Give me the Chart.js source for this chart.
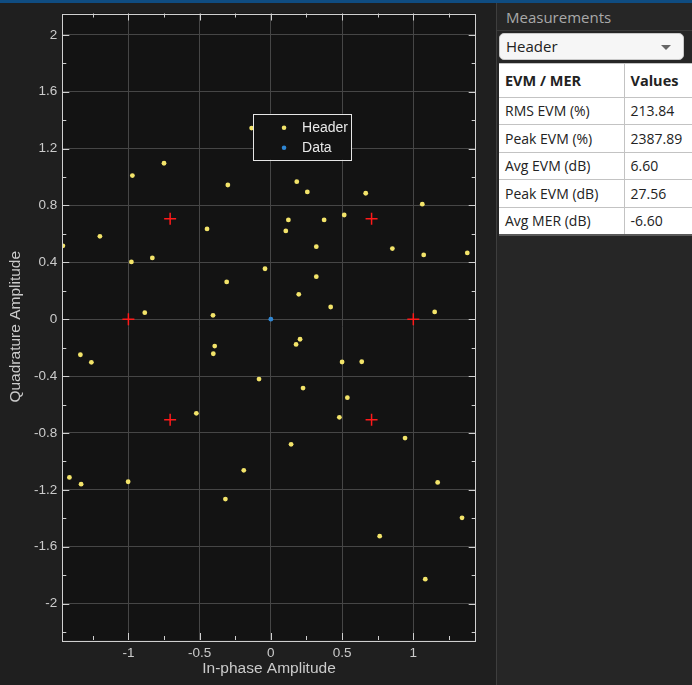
<!DOCTYPE html>
<html>
<head>
<meta charset="utf-8">
<script src="https://cdn.jsdelivr.net/npm/chart.js@4"></script>
<style>
 html,body{margin:0;padding:0;background:#1f1f1f;width:692px;height:685px;overflow:hidden;font-family:"Open Sans",sans-serif;}
 .topbar{position:absolute;left:0;top:0;width:692px;height:3px;background:#0f4c81;}
 #wrap{position:absolute;left:0;top:0;width:497px;height:685px;}
 .panel{position:absolute;left:496px;top:3px;width:196px;height:682px;background:#262626;border-left:1px solid #3e3e3e;}
 .ptitle{position:absolute;left:9px;top:4px;font-size:15px;color:#a9a9a9;}
 .pline{position:absolute;left:0;top:27px;width:196px;height:1px;background:#3a3a3a;}
 .drop{position:absolute;left:2px;top:30px;width:185px;height:27px;background:#f6f6f6;border:1px solid #c9c9c9;border-radius:5px;box-sizing:border-box;}
 .drop span{position:absolute;left:6px;top:2px;font-size:15px;color:#222;}
 .drop i{position:absolute;right:12px;top:11px;width:0;height:0;border-left:5px solid transparent;border-right:5px solid transparent;border-top:5px solid #666;}
 table{position:absolute;left:2px;top:59.5px;border-collapse:collapse;background:#fff;width:194px;border-bottom:2px solid #5a5a5a;}
 td,th{border:1px solid #c3c3c3;font-size:14px;color:#222;text-align:left;padding:0 6px;white-space:nowrap;box-sizing:border-box;height:27.6px;}
 th{font-weight:700;font-size:14.5px;height:34px;}
 td:first-child,th:first-child{width:125px;border-left:none;}
 td:last-child,th:last-child{border-right:none;}
</style>
</head>
<body>
<div class="topbar"></div>
<div id="wrap"><canvas id="c" width="497" height="685"></canvas></div>
<div class="panel">
 <div class="ptitle">Measurements</div>
 <div class="pline"></div>
 <div class="drop"><span>Header</span><i></i></div>
 <table id="tbl"></table>
</div>
<script>
/* constellation points */
const headerI=[-1.46,-1.20,-0.972,-0.75,-0.302,-0.448,-0.135,0.182,0.256,0.666,1.063,0.123,0.105,0.374,0.515,0.319,0.853,1.073,1.379,-0.979,-0.832,-0.041,-0.31,0.319,0.196,0.42,-0.885,-0.406,1.15,-1.337,-1.26,-0.394,-0.404,0.205,0.177,-0.083,0.5,0.638,0.226,-0.523,0.537,0.481,0.942,0.142,-0.19,-1.414,-1.332,-1.002,-0.319,1.171,1.342,0.764,1.084];
const headerQ=[0.516,0.583,1.01,1.097,0.944,0.635,1.344,0.967,0.895,0.886,0.809,0.698,0.621,0.698,0.733,0.51,0.497,0.452,0.466,0.403,0.431,0.355,0.262,0.299,0.175,0.086,0.046,0.027,0.051,-0.25,-0.303,-0.189,-0.243,-0.141,-0.177,-0.421,-0.301,-0.299,-0.484,-0.662,-0.552,-0.69,-0.836,-0.88,-1.063,-1.113,-1.16,-1.143,-1.265,-1.148,-1.397,-1.526,-1.828];
const dataI=[0];
const dataQ=[0];
const refI=[-1,-0.707,-0.707,0.707,0.707,1];
const refQ=[0,0.707,-0.707,0.707,-0.707,0];

const xRange=[-1.464,1.438];
const yRange=[-2.256,2.15];
const xMajor=0.5, xMinor=0.25;
const yMajor=0.4, yMinor=0.2;

const measNames=["RMS EVM (%)","Peak EVM (%)","Avg EVM (dB)","Peak EVM (dB)","Avg MER (dB)"];
const measValues=["213.84","2387.89","6.60","27.56","-6.60"];

/* table */
let html="<tr><th>EVM / MER</th><th>Values</th></tr>";
measNames.forEach((n,i)=>{html+=`<tr><td>${n}</td><td>${measValues[i]}</td></tr>`;});
document.getElementById("tbl").innerHTML=html;

function pts(xs,ys){return xs.map((x,i)=>({x,y:ys[i]}));}
function isMajor(v,step){return Math.abs(v/step-Math.round(v/step))<1e-6;}
function fmt(v){return String(Math.round(v*10)/10);}

const AXIS="#d0d0d0", TXT="#cbcbcb", GRID="#464646";
const FONT="'Liberation Sans', Arial, sans-serif";

const boxPlugin={
 id:"box",
 beforeDraw(chart){
  const a=chart.chartArea, ctx=chart.ctx;
  ctx.save();ctx.fillStyle="#131313";
  ctx.fillRect(a.left,a.top,a.right-a.left,a.bottom-a.top);
  ctx.restore();
 },
 afterDatasetsDraw(chart){
  const a=chart.chartArea, ctx=chart.ctx;
  const sx=chart.scales.x, sy=chart.scales.y;
  ctx.save();
  ctx.strokeStyle=AXIS;ctx.lineWidth=1;
  ctx.beginPath();
  sx.ticks.forEach(t=>{
   const p=Math.round(sx.getPixelForValue(t.value))+0.5;
   const l=isMajor(t.value,xMajor)?7:4;
   ctx.moveTo(p,a.bottom);ctx.lineTo(p,a.bottom-l);
   ctx.moveTo(p,a.top);ctx.lineTo(p,a.top+l);
  });
  sy.ticks.forEach(t=>{
   const p=Math.round(sy.getPixelForValue(t.value))+0.5;
   const l=isMajor(t.value,yMajor)?7:4;
   ctx.moveTo(a.left,p);ctx.lineTo(a.left+l,p);
   ctx.moveTo(a.right,p);ctx.lineTo(a.right-l,p);
  });
  ctx.stroke();
  ctx.strokeRect(Math.round(a.left)+0.5,Math.round(a.top)+0.5,Math.round(a.right-a.left),Math.round(a.bottom-a.top));
  ctx.restore();
 },
 afterDraw(chart){
  const ctx=chart.ctx;
  const sx=chart.scales.x, sy=chart.scales.y;
  // legend box placed in data space near the top centre
  const lx=sx.getPixelForValue(-0.125), ly=sy.getPixelForValue(1.445);
  const w=98, h=46;
  ctx.save();
  ctx.fillStyle="#131313";ctx.fillRect(lx,ly,w,h);
  ctx.strokeStyle="#e6e6e6";ctx.lineWidth=1;
  ctx.strokeRect(Math.round(lx)+0.5,Math.round(ly)+0.5,w,h);
  const items=[["Header","#f3e46a"],["Data","#2f86d3"]];
  ctx.font="14px "+FONT;ctx.textBaseline="middle";
  items.forEach((it,i)=>{
   const cy=ly+14+i*20;
   ctx.fillStyle=it[1];ctx.beginPath();ctx.arc(lx+31,cy,2.3,0,Math.PI*2);ctx.fill();
   ctx.fillStyle="#e8e8e8";ctx.fillText(it[0],lx+49,cy+0.5);
  });
  ctx.restore();
 }
};

new Chart(document.getElementById("c"),{
 type:"scatter",
 data:{datasets:[
  {label:"Header",data:pts(headerI,headerQ),backgroundColor:"#f3e46a",borderWidth:0,pointRadius:2.4,pointHoverRadius:2.4},
  {label:"Data",data:pts(dataI,dataQ),backgroundColor:"#2f86d3",borderWidth:0,pointRadius:2.4,pointHoverRadius:2.4},
  {label:"Reference",data:pts(refI,refQ),pointStyle:"cross",pointRadius:6,pointHoverRadius:6,borderColor:"#ff1a1a",borderWidth:1.5,backgroundColor:"#ff1a1a"}
 ]},
 options:{
  responsive:false,animation:false,
  plugins:{legend:{display:false},tooltip:{enabled:false}},
  layout:{padding:{top:13.5,right:21.3,left:0,bottom:0}},
  scales:{
   x:{type:"linear",min:xRange[0],max:xRange[1],
    afterFit(s){s.height=45;},
    ticks:{stepSize:xMinor,includeBounds:false,autoSkip:false,maxRotation:0,padding:5,color:TXT,
     font:{family:FONT,size:13.5},callback:v=>isMajor(v,xMajor)?fmt(v):""},
    grid:{drawTicks:false,color:c=>isMajor(c.tick.value,xMajor)?GRID:"rgba(0,0,0,0)"},
    border:{display:false},
    title:{display:true,text:"In-phase Amplitude",color:TXT,font:{family:FONT,size:15.5},padding:{top:0,bottom:7}}
   },
   y:{type:"linear",min:yRange[0],max:yRange[1],
    afterFit(s){s.width=62.3;},
    ticks:{stepSize:yMinor,includeBounds:false,autoSkip:false,padding:5,color:TXT,
     font:{family:FONT,size:13.5},callback:v=>isMajor(v,yMajor)?fmt(v):""},
    grid:{drawTicks:false,color:c=>isMajor(c.tick.value,yMajor)?GRID:"rgba(0,0,0,0)"},
    border:{display:false},
    title:{display:true,text:"Quadrature Amplitude",color:TXT,font:{family:FONT,size:15.5},padding:{top:6,bottom:0}}
   }
  }
 },
 plugins:[boxPlugin]
});
</script>
</body>
</html>
